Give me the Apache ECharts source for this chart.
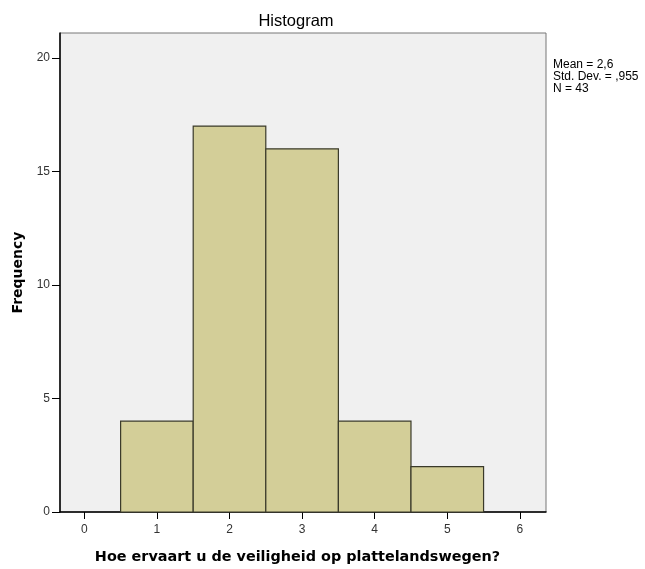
<!DOCTYPE html>
<html>
<head>
<meta charset="utf-8">
<script src="https://cdn.jsdelivr.net/npm/echarts@6/dist/echarts.min.js"></script>
<style>
  html, body { margin: 0; padding: 0; background: #fff; }
  #chart { width: 645px; height: 569px; }
</style>
</head>
<body>
<div id="chart"></div>
<script>
var binCenters = [1, 2, 3, 4, 5];
var frequencies = [4, 17, 16, 4, 2];
var yTicks = [0, 5, 10, 15, 20];
var xTicks = [0, 1, 2, 3, 4, 5, 6];
var statsLines = ['Mean = 2,6', 'Std. Dev. = ,955', 'N = 43'];

var barData = binCenters.map(function (c, i) { return [c, frequencies[i]]; });

var myChart = echarts.init(document.getElementById('chart'));
myChart.setOption({
  animation: false,
  title: {
    text: 'Histogram',
    left: 291,
    textAlign: 'center',
    top: 8,
    textStyle: { fontFamily: 'Liberation Sans', fontSize: 16.5, fontWeight: 'normal', color: '#000' }
  },
  graphic: [{
    type: 'text',
    left: 553,
    top: 59,
    style: {
      text: statsLines.join('\n'),
      fontFamily: 'Liberation Sans',
      fontSize: 12,
      lineHeight: 12,
      fill: '#000'
    }
  }],
  grid: {
    left: 60, top: 33, right: 99, bottom: 55,
    show: true,
    backgroundColor: '#f0f0f0',
    borderColor: '#777',
    borderWidth: 1
  },
  xAxis: {
    type: 'value',
    min: -0.335,
    max: 6.36,
    interval: 1,
    name: 'Hoe ervaart u de veiligheid op plattelandswegen?',
    nameLocation: 'middle',
    nameGap: 38,
    nameTextStyle: { fontFamily: 'DejaVu Sans', fontSize: 14.4, fontWeight: 'bold', color: '#000', padding: [0, 11, 0, 0] },
    axisLine: { show: true, onZero: false, lineStyle: { color: '#000', width: 1.5 } },
    axisTick: { show: true, customValues: xTicks, length: 7, lineStyle: { color: '#000' } },
    axisLabel: { customValues: xTicks, fontFamily: 'Liberation Sans', fontSize: 12, color: '#333', margin: 12 },
    splitLine: { show: false }
  },
  yAxis: {
    type: 'value',
    min: 0,
    max: 21.1,
    interval: 5,
    name: 'Frequency',
    nameLocation: 'middle',
    nameGap: 35,
    nameTextStyle: { fontFamily: 'DejaVu Sans', fontSize: 14, fontWeight: 'bold', color: '#000' },
    axisLine: { show: true, onZero: false, lineStyle: { color: '#000', width: 1.5 } },
    axisTick: { show: true, customValues: yTicks, length: 8, lineStyle: { color: '#000' } },
    axisLabel: { customValues: yTicks, fontFamily: 'Liberation Sans', fontSize: 12, color: '#333', margin: 10 },
    splitLine: { show: false }
  },
  series: [{
    type: 'custom',
    data: barData,
    renderItem: function (params, api) {
      var x = api.value(0), y = api.value(1);
      var p0 = api.coord([x - 0.5, y]);
      var p1 = api.coord([x + 0.5, 0]);
      return {
        type: 'rect',
        shape: { x: p0[0], y: p0[1], width: p1[0] - p0[0], height: p1[1] - p0[1] },
        style: { fill: '#d3ce98', stroke: '#3a3a2a', lineWidth: 1.2 }
      };
    }
  }]
});
</script>
</body>
</html>
